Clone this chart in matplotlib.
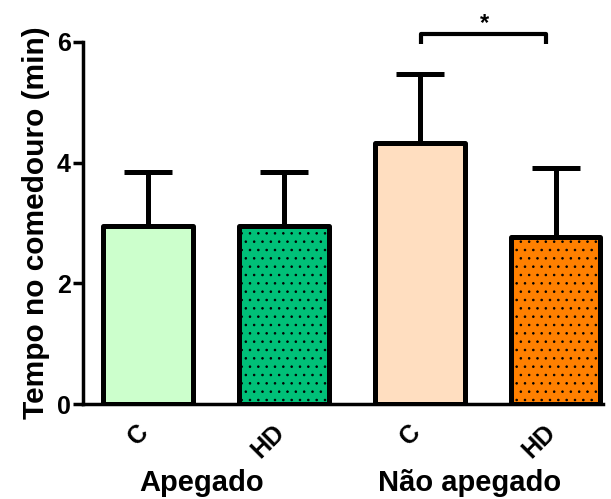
import matplotlib
matplotlib.use("Agg")
import matplotlib.pyplot as plt
import matplotlib.transforms as mtransforms

categories = ["C", "HD", "C", "HD"]
groups = ["Apegado", "Não apegado"]
means = [2.95, 2.95, 4.33, 2.77]
errors = [0.90, 0.90, 1.14, 1.14]
colors = ["#CCFFCC", "#00C078", "#FFDEC0", "#FF8000"]
hatches = [None, "..", None, ".."]

plt.rcParams['font.family'] = ['Liberation Sans', 'DejaVu Sans']
plt.rcParams['hatch.linewidth'] = 0.6

fig = plt.figure(figsize=(6.11, 4.99), dpi=100)
ax = fig.add_axes([0.136, 0.190, 0.851, 0.726])

x = list(range(len(means)))
for i in x:
    ax.bar(i, means[i], width=0.66, color=colors[i], edgecolor="black",
           linewidth=3.6, hatch=hatches[i], zorder=2, joinstyle="round")
    ax.errorbar(i, means[i], yerr=[[0], [errors[i]]], fmt="none", ecolor="black",
                elinewidth=3.6, capsize=17, capthick=3.6, zorder=1)

ax.set_ylim(0, 6)
ax.set_xlim(-0.48, 3.35)
ax.set_yticks([0, 2, 4, 6])
ax.set_yticklabels(["0", "2", "4", "6"], fontsize=18, fontweight="bold")
ax.set_xticks(x)
ax.set_xticklabels([""] * len(x))
offset = mtransforms.ScaledTranslation(5 / 100, -16 / 100, fig.dpi_scale_trans)
for i in x:
    ax.text(i, 0, categories[i], transform=ax.get_xaxis_transform() + offset,
            rotation=45, ha="right", va="top", fontsize=18, fontweight="bold")
ax.tick_params(axis="x", length=0)
ax.tick_params(axis="y", length=7, width=2.5, pad=2)
for s in ["top", "right"]:
    ax.spines[s].set_visible(False)
for s in ["left", "bottom"]:
    ax.spines[s].set_linewidth(2.5)
ax.set_ylabel("Tempo no comedouro (min)", fontsize=21.5, fontweight="bold", labelpad=5)

# group labels
ax.text(0.39, -0.218, groups[0], transform=ax.get_xaxis_transform(), ha="center",
        va="center", fontsize=21, fontweight="bold")
ax.text(2.37, -0.218, groups[1], transform=ax.get_xaxis_transform(), ha="center",
        va="center", fontsize=21, fontweight="bold")

# significance bracket
yb, yt = 5.96, 6.13
ax.plot([2.01, 2.01, 2.93, 2.93], [yb, yt, yt, yb], color="black", lw=3,
        clip_on=False, solid_capstyle="butt")
ax.text(2.48, 6.12, "*", ha="center", va="bottom", fontsize=17, fontweight="bold")

fig.savefig("out.png", dpi=100)
